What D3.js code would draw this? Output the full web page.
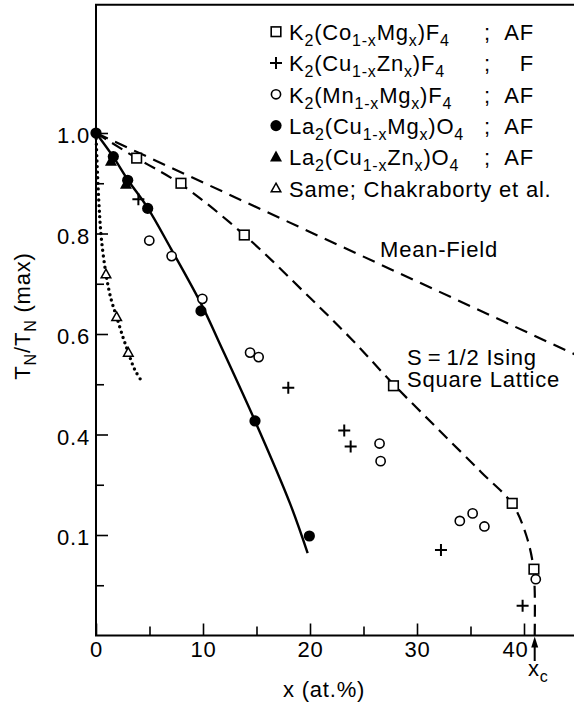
<!DOCTYPE html>
<html>
<head>
<meta charset="utf-8">
<script src="https://cdn.jsdelivr.net/npm/d3@7"></script>
<style>
  html, body { margin: 0; padding: 0; background: #fff; }
  svg { display: block; }
  text { font-family: "Liberation Sans", Arial, Helvetica, sans-serif; fill: #000; }
</style>
</head>
<body>
<svg id="chart" width="574" height="706"></svg>
<script>
// ---------------- data ----------------
const xTickValues = [0, 10, 20, 30, 40];
const xTickLabels = ["0", "10", "20", "30", "40"];
const xMinorTicks = [5, 15, 25, 35];
const yTickValues = [0.2, 0.4, 0.6, 0.8, 1.0];
const yTickLabels = ["0.1", "0.4", "0.6", "0.8", "1.0"];
const yMinorTicks = [0.1, 0.3, 0.5, 0.7, 0.9];

// K2(Co1-xMgx)F4 (open squares)
const coMgX = [3.8, 7.94, 13.86, 27.8, 38.9, 40.93];
const coMgY = [0.950, 0.900, 0.797, 0.497, 0.263, 0.132];
// K2(Cu1-xZnx)F4 (plus)
const cuZnFX = [3.96, 17.97, 23.2, 23.8, 32.24, 39.87];
const cuZnFY = [0.868, 0.493, 0.408, 0.376, 0.170, 0.059];
// K2(Mn1-xMgx)F4 (open circles)
const mnMgX = [4.98, 7.07, 9.94, 14.4, 15.2, 26.5, 26.6, 34.0, 35.2, 36.3, 41.1];
const mnMgY = [0.786, 0.755, 0.670, 0.563, 0.554, 0.382, 0.347, 0.228, 0.243, 0.217, 0.112];
// La2(Cu1-xMgx)O4 (filled circles)
const laCuMgX = [0, 1.62, 2.96, 4.83, 9.81, 14.86, 19.94];
const laCuMgY = [1.0, 0.953, 0.906, 0.850, 0.646, 0.427, 0.198];
// La2(Cu1-xZnx)O4 (filled triangles)
const laCuZnX = [1.40, 2.80];
const laCuZnY = [0.944, 0.898];
// Same; Chakraborty et al. (open triangles)
const chakX = [0.93, 1.93, 3.02];
const chakY = [0.719, 0.634, 0.563];

// theory / guide curves
const meanFieldX = [0, 45];
const meanFieldY = [1.0, 0.557];
const isingX = [0, 3.8, 7.94, 13.86, 20, 24, 27.8, 32, 36, 38.9, 40.2, 40.85, 41.0, 41.0];
const isingY = [1.0, 0.95, 0.898, 0.797, 0.672, 0.587, 0.50, 0.41, 0.325, 0.262, 0.2, 0.14, 0.09, 0];
const fitX = [0, 1.6, 3, 4.8, 7, 9.9, 11.43, 14.86, 18.13, 19.78];
const fitY = [1.0, 0.953, 0.906, 0.852, 0.77, 0.657, 0.587, 0.427, 0.263, 0.164];
const chakFitX = [0, 0.08, 0.18, 0.3, 0.5, 0.93, 1.4, 1.93, 2.5, 3.02, 3.6, 4.36];
const chakFitY = [1.0, 0.95, 0.9, 0.85, 0.79, 0.72, 0.67, 0.634, 0.595, 0.563, 0.53, 0.503];

const xc = 41.0;

const legendLabels = [
  "K_{2}(Co_{1-x}Mg_{x})F_{4}",
  "K_{2}(Cu_{1-x}Zn_{x})F_{4}",
  "K_{2}(Mn_{1-x}Mg_{x})F_{4}",
  "La_{2}(Cu_{1-x}Mg_{x})O_{4}",
  "La_{2}(Cu_{1-x}Zn_{x})O_{4}",
  "Same; Chakraborty et al."
];
const legendOrder = ["AF", "F", "AF", "AF", "AF", ""];
const legendMarkers = ["square", "plus", "circle", "dot", "triangle", "opentriangle"];

// ---------------- setup ----------------
const svg = d3.select("#chart");
const FS = 22, SUBFS = 16;
const LS = "0.8px";

const x = d3.scaleLinear().domain([0, 45]).range([96, 96 + 45 * 10.7]);
const y = d3.scaleLinear().domain([0, 1.255]).range([635.5, 635.5 - 1.255 * 502.5]);

const x0 = x(0), yB = y(0), yT = y(1.255);
const W = 574;

function richText(sel, str) {
  const parts = str.split(/(_\{[^}]*\})/).filter(s => s.length);
  let sub = false;
  parts.forEach(p => {
    if (p.startsWith("_{")) {
      sel.append("tspan").attr("font-size", SUBFS).attr("dy", 6).text(p.slice(2, -1));
      sub = true;
    } else {
      sel.append("tspan").attr("font-size", FS).attr("dy", sub ? -6 : 0).text(p);
      sub = false;
    }
  });
}

// ---------------- axes ----------------
const frame = svg.append("g").attr("stroke", "#000").attr("stroke-width", 2).attr("fill", "none");
frame.append("line").attr("x1", x0).attr("x2", x0).attr("y1", yT).attr("y2", yB);
frame.append("line").attr("x1", x0 - 1).attr("x2", W).attr("y1", yB).attr("y2", yB);
frame.append("line").attr("x1", x0 - 1).attr("x2", W).attr("y1", yT).attr("y2", yT);

const yAxis = d3.axisLeft(y).tickValues(yTickValues)
  .tickFormat((d, i) => yTickLabels[i]).tickSizeInner(-12).tickSizeOuter(0).tickPadding(6);
const gy = svg.append("g").attr("transform", `translate(${x0},0)`).call(yAxis);
gy.select(".domain").remove();
gy.selectAll(".tick line").attr("stroke", "#000").attr("stroke-width", 1.6);
gy.selectAll(".tick text").attr("font-size", FS).attr("letter-spacing", LS)
  .attr("font-family", "Liberation Sans, Arial, sans-serif").attr("dy", "0.45em").attr("x", -6);

const yMinor = d3.axisLeft(y).tickValues(yMinorTicks).tickFormat("").tickSizeInner(-8).tickSizeOuter(0);
const gym = svg.append("g").attr("transform", `translate(${x0},0)`).call(yMinor);
gym.select(".domain").remove();
gym.selectAll(".tick line").attr("stroke", "#000").attr("stroke-width", 1.6);

const xAxis = d3.axisBottom(x).tickValues(xTickValues)
  .tickFormat((d, i) => xTickLabels[i]).tickSizeInner(-12).tickSizeOuter(0).tickPadding(6);
const gx = svg.append("g").attr("transform", `translate(0,${yB})`).call(xAxis);
gx.select(".domain").remove();
gx.selectAll(".tick line").attr("stroke", "#000").attr("stroke-width", 1.6);
gx.selectAll(".tick text").attr("font-size", FS).attr("letter-spacing", LS)
  .attr("font-family", "Liberation Sans, Arial, sans-serif");
// the "40" label sits left of its tick in the reference (arrow for x_c to its right)
gx.selectAll(".tick text").filter(d => d === 40).attr("x", -9);

const xMinor = d3.axisBottom(x).tickValues(xMinorTicks).tickFormat("").tickSizeInner(-9).tickSizeOuter(0);
const gxm = svg.append("g").attr("transform", `translate(0,${yB})`).call(xMinor);
gxm.select(".domain").remove();
gxm.selectAll(".tick line").attr("stroke", "#000").attr("stroke-width", 1.6);

// ---------------- curves ----------------
const zip = (xs, ys) => xs.map((v, i) => [v, ys[i]]);
const line = d3.line().x(d => x(d[0])).y(d => y(d[1])).curve(d3.curveCatmullRom.alpha(0.5));
const straight = d3.line().x(d => x(d[0])).y(d => y(d[1]));

svg.append("path").datum(zip(meanFieldX, meanFieldY)).attr("d", straight)
  .attr("fill", "none").attr("stroke", "#000").attr("stroke-width", 2.2).attr("stroke-dasharray", "13,8");
svg.append("path").datum(zip(isingX, isingY)).attr("d", line)
  .attr("fill", "none").attr("stroke", "#000").attr("stroke-width", 2.2).attr("stroke-dasharray", "12,7");
svg.append("path").datum(zip(fitX, fitY)).attr("d", line)
  .attr("fill", "none").attr("stroke", "#000").attr("stroke-width", 2.4);
svg.append("path").datum(zip(chakFitX, chakFitY)).attr("d", line)
  .attr("fill", "none").attr("stroke", "#000").attr("stroke-width", 3.4)
  .attr("stroke-linecap", "round").attr("stroke-dasharray", "0,5.6");

// ---------------- markers ----------------
function drawMarker(g, type, cx, cy) {
  if (type === "square") {
    g.append("rect").attr("x", cx - 4.8).attr("y", cy - 4.8).attr("width", 9.6).attr("height", 9.6)
      .attr("fill", "#fff").attr("stroke", "#000").attr("stroke-width", 1.6);
  } else if (type === "plus") {
    g.append("path").attr("d", `M${cx - 6},${cy}H${cx + 6}M${cx},${cy - 6}V${cy + 6}`)
      .attr("stroke", "#000").attr("stroke-width", 2).attr("fill", "none");
  } else if (type === "circle") {
    g.append("circle").attr("cx", cx).attr("cy", cy).attr("r", 4.6)
      .attr("fill", "#fff").attr("stroke", "#000").attr("stroke-width", 1.6);
  } else if (type === "dot") {
    g.append("circle").attr("cx", cx).attr("cy", cy).attr("r", 5.6).attr("fill", "#000");
  } else if (type === "triangle") {
    g.append("path").attr("d", `M${cx},${cy - 6.5}L${cx + 6},${cy + 4.5}L${cx - 6},${cy + 4.5}Z`).attr("fill", "#000");
  } else if (type === "opentriangle") {
    g.append("path").attr("d", `M${cx},${cy - 5}L${cx + 4.8},${cy + 3.6}L${cx - 4.8},${cy + 3.6}Z`)
      .attr("fill", "#fff").attr("stroke", "#000").attr("stroke-width", 1.5);
  }
}

const series = [
  ["square", coMgX, coMgY],
  ["plus", cuZnFX, cuZnFY],
  ["circle", mnMgX, mnMgY],
  ["dot", laCuMgX, laCuMgY],
  ["triangle", laCuZnX, laCuZnY],
  ["opentriangle", chakX, chakY]
];
const gm = svg.append("g");
series.forEach(([type, xs, ys]) => {
  xs.forEach((v, i) => drawMarker(gm, type, x(v), y(ys[i])));
});

// ---------------- legend ----------------
const lg = svg.append("g");
legendLabels.forEach((lab, i) => {
  const cy = 31.7 + i * 31.3;
  drawMarker(lg, legendMarkers[i], 276, cy);
  const t = lg.append("text").attr("x", 289).attr("y", cy + 8.3).attr("letter-spacing", LS);
  richText(t, lab);
  if (legendOrder[i]) {
    lg.append("text").attr("x", 484).attr("y", cy + 8.3).attr("font-size", FS).text(";");
    lg.append("text").attr("x", 534).attr("y", cy + 8.3).attr("font-size", FS)
      .attr("text-anchor", "end").attr("letter-spacing", LS).text(legendOrder[i]);
  }
});

// ---------------- annotations ----------------
svg.append("text").attr("x", 380).attr("y", 257).attr("font-size", FS).attr("letter-spacing", LS).text("Mean-Field");
const ising = svg.append("text").attr("x", 407).attr("y", 365).attr("font-size", FS).attr("letter-spacing", LS);
ising.append("tspan").attr("x", 407).text("S\u2009=\u20091/2 Ising");
ising.append("tspan").attr("x", 407).attr("dy", 22).text("Square Lattice");

svg.append("text").attr("x", 283).attr("y", 697).attr("font-size", FS).attr("letter-spacing", LS).text("x (at.%)");

const xcT = svg.append("text").attr("x", 528).attr("y", 676).attr("letter-spacing", LS);
richText(xcT, "x_{c}");

// arrow at x_c
const ax = x(xc);
svg.append("line").attr("x1", ax).attr("x2", ax).attr("y1", 661).attr("y2", 645)
  .attr("stroke", "#000").attr("stroke-width", 2);
svg.append("path").attr("d", `M${ax},${yB + 1}L${ax + 3.5},${yB + 12}L${ax - 3.5},${yB + 12}Z`).attr("fill", "#000");

// y label
const yl = svg.append("text").attr("transform", "translate(30,316) rotate(-90)")
  .attr("text-anchor", "middle").attr("letter-spacing", LS);
richText(yl, "T_{N}/T_{N} (max)");
</script>
</body>
</html>
